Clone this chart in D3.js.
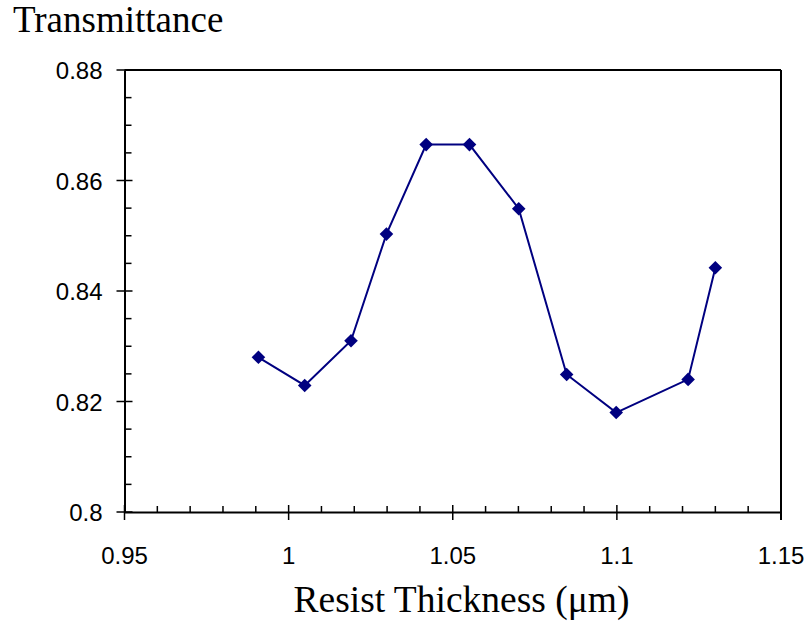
<!DOCTYPE html>
<html>
<head>
<meta charset="utf-8">
<script src="https://cdn.jsdelivr.net/npm/d3@7"></script>
<style>
  html, body { margin: 0; padding: 0; background: #fff; }
  svg { display: block; }
</style>
</head>
<body>
<svg id="chart" width="812" height="628"></svg>
<script>
const thickness = [0.9908, 1.0049, 1.0190, 1.0298, 1.0419, 1.0551, 1.0701, 1.0847, 1.0998, 1.1217, 1.1300];
const transmittance = [0.8280, 0.8229, 0.8310, 0.8503, 0.8665, 0.8665, 0.8549, 0.8249, 0.8180, 0.8240, 0.8442];
const xTickValues = [0.95, 1, 1.05, 1.1, 1.15];
const xTickLabels = ["0.95", "1", "1.05", "1.1", "1.15"];
const yTickValues = [0.8, 0.82, 0.84, 0.86, 0.88];
const yTickLabels = ["0.8", "0.82", "0.84", "0.86", "0.88"];
const xMinor = [0.96,0.97,0.98,0.99,1.01,1.02,1.03,1.04,1.06,1.07,1.08,1.09,1.11,1.12,1.13,1.14];
const yMinor = [0.805,0.81,0.815,0.825,0.83,0.835,0.845,0.85,0.855,0.865,0.87,0.875];

const svg = d3.select("#chart");
const L = 124.5, R = 781, T = 70, B = 512;
const x = d3.scaleLinear().domain([0.95, 1.15]).range([L, R]);
const y = d3.scaleLinear().domain([0.8, 0.88]).range([B, T]);

const axisColor = "#000";
// frame top and right
svg.append("line").attr("x1", L).attr("x2", R).attr("y1", T).attr("y2", T)
  .attr("stroke", axisColor).attr("stroke-width", 2);
svg.append("line").attr("x1", R).attr("x2", R).attr("y1", T).attr("y2", B + 8)
  .attr("stroke", axisColor).attr("stroke-width", 2);

// x axis
const xAxisG = svg.append("g").attr("transform", `translate(0,${B})`);
xAxisG.call(d3.axisBottom(x).tickValues(xTickValues).tickSize(0).tickFormat(""));
xAxisG.select(".domain").attr("stroke", axisColor).attr("stroke-width", 2);
xAxisG.selectAll(".major").data(xTickValues).enter().append("line")
  .attr("x1", d => x(d)).attr("x2", d => x(d)).attr("y1", -7).attr("y2", 8)
  .attr("stroke", axisColor).attr("stroke-width", 1.5);
xAxisG.selectAll(".minor").data(xMinor).enter().append("line")
  .attr("x1", d => x(d)).attr("x2", d => x(d)).attr("y1", -6).attr("y2", 0)
  .attr("stroke", axisColor).attr("stroke-width", 1.5);
xAxisG.selectAll(".lbl").data(xTickValues).enter().append("text")
  .attr("x", d => x(d)).attr("y", 52)
  .attr("text-anchor", "middle")
  .attr("font-family", "Liberation Sans, Arial, sans-serif")
  .attr("font-size", 24).attr("fill", "#000")
  .text((d, i) => xTickLabels[i]);

// y axis
const yAxisG = svg.append("g").attr("transform", `translate(${L},0)`);
yAxisG.call(d3.axisLeft(y).tickValues(yTickValues).tickSize(0).tickFormat(""));
yAxisG.select(".domain").attr("stroke", axisColor).attr("stroke-width", 2);
yAxisG.selectAll(".major").data(yTickValues).enter().append("line")
  .attr("y1", d => y(d)).attr("y2", d => y(d)).attr("x1", -8).attr("x2", 8)
  .attr("stroke", axisColor).attr("stroke-width", 1.5);
yAxisG.selectAll(".minor").data(yMinor).enter().append("line")
  .attr("y1", d => y(d)).attr("y2", d => y(d)).attr("x1", 0).attr("x2", 7)
  .attr("stroke", axisColor).attr("stroke-width", 1.5);
yAxisG.selectAll(".lbl").data(yTickValues).enter().append("text")
  .attr("x", -22).attr("y", d => y(d) + 9)
  .attr("text-anchor", "end")
  .attr("font-family", "Liberation Sans, Arial, sans-serif")
  .attr("font-size", 24).attr("fill", "#000")
  .text((d, i) => yTickLabels[i]);

// series
const data = thickness.map((t, i) => ({ x: t, y: transmittance[i] }));
const line = d3.line().x(d => x(d.x)).y(d => y(d.y));
svg.append("path").datum(data).attr("d", line)
  .attr("fill", "none").attr("stroke", "#000080").attr("stroke-width", 2);
const h = 6.8;
svg.selectAll(".mk").data(data).enter().append("path")
  .attr("d", d => {
    const cx = x(d.x), cy = y(d.y);
    return `M${cx},${cy - h}L${cx + h},${cy}L${cx},${cy + h}L${cx - h},${cy}Z`;
  })
  .attr("fill", "#000080");

// titles
svg.append("text").attr("x", 13).attr("y", 32)
  .attr("font-family", "Liberation Serif, Times New Roman, serif")
  .attr("font-size", 37).attr("fill", "#000").text("Transmittance");
svg.append("text").attr("x", 461.5).attr("y", 612)
  .attr("text-anchor", "middle")
  .attr("font-family", "Liberation Serif, Times New Roman, serif")
  .attr("font-size", 37.5).attr("fill", "#000").text("Resist Thickness (μm)");
</script>
</body>
</html>
